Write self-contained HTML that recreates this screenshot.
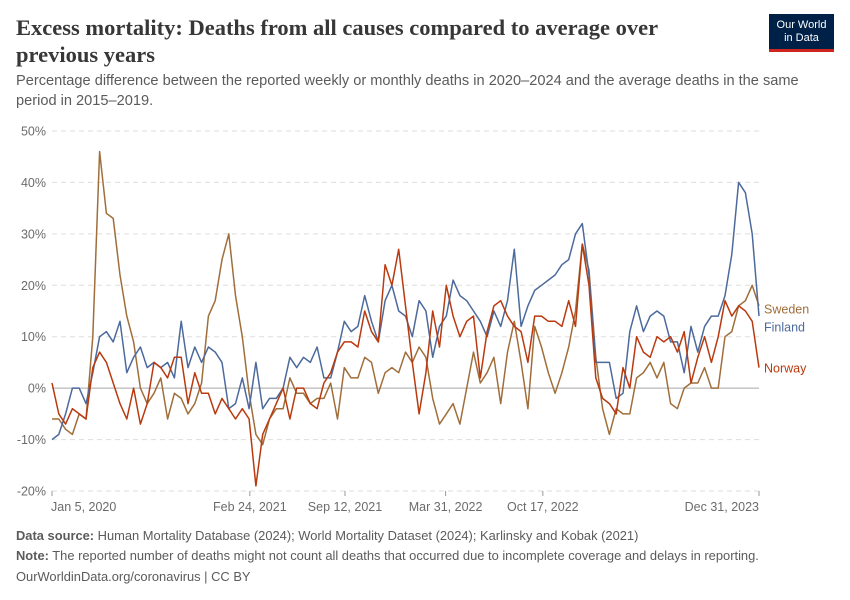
<!DOCTYPE html>
<html><head><meta charset="utf-8"><style>
body{margin:0;background:#fff;font-family:"Liberation Sans",sans-serif}
#wrap{position:relative;width:850px;height:600px;overflow:hidden}
.t{position:absolute;margin:0}
</style></head><body>
<div id="wrap">
<h1 class="t" style="left:16px;top:14px;width:700px;font-family:'Liberation Serif',serif;font-size:22.5px;line-height:27px;color:#373737;font-weight:bold">Excess mortality: Deaths from all causes compared to average over previous years</h1>
<p class="t" style="left:16px;top:72px;width:820px;font-size:14.6px;line-height:19.5px;color:#5b5b5b">Percentage difference between the reported weekly or monthly deaths in 2020–2024 and the average deaths in the same period in 2015–2019.</p>
<div class="t" style="left:769px;top:14px;width:65px;height:38px;background:#002147;border-bottom:3px solid #ce261e;box-sizing:border-box;color:#fff;font-size:11px;line-height:13px;text-align:center;padding-top:5px">Our World<br>in Data</div>
<svg id="chart" width="850" height="600" style="position:absolute;left:0;top:0"></svg>
<p class="t" style="left:16px;top:528px;font-size:12.9px;color:#5b5b5b"><b>Data source:</b> Human Mortality Database (2024); World Mortality Dataset (2024); Karlinsky and Kobak (2021)</p>
<p class="t" style="left:16px;top:548px;font-size:12.9px;color:#5b5b5b"><b>Note:</b> The reported number of deaths might not count all deaths that occurred due to incomplete coverage and delays in reporting.</p>
<p class="t" style="left:16px;top:569px;font-size:12.9px;color:#5b5b5b">OurWorldinData.org/coronavirus | CC BY</p>
</div>
<script>
const yTicks=[-20,-10,0,10,20,30,40,50];
const xTickLabels=["Jan 5, 2020","Feb 24, 2021","Sep 12, 2021","Mar 31, 2022","Oct 17, 2022","Dec 31, 2023"];
const xTickIdx=[0,29.1,43.1,57.9,72.2,104];
const sweden=[-6,-6,-8,-9,-5,-6,10,46,34,33,22,14,9,0,-3,-1,2,-6,-1,-2,-5,-3,1,14,17,25,30,18,10,-1,-9,-11,-6,-4,-4,2,-1,-1,-3,-2,-2,1,-6,4,2,2,6,5,-1,3,4,3,7,5,8,6,-2,-7,-5,-3,-7,0,7,1,3,6,-3,7,13,5,-4,12,8,3,-1,3,8,15,28,23,6,-4,-9,-4,-5,-5,2,3,5,2,5,-3,-4,0,1,1,4,0,0,10,11,16,17,20,16];
const finland=[-10,-9,-5,0,0,-3,3,10,11,9,13,3,6,8,4,5,4,5,2,13,4,8,5,8,7,5,-4,-3,2,-4,5,-4,-2,-2,0,6,4,6,5,8,2,2,7,13,11,12,18,13,9,17,20,15,14,10,17,15,6,12,14,21,18,17,15,13,10,15,12,17,27,12,16,19,20,21,22,24,25,30,32,22,5,5,5,-2,-1,11,16,11,14,15,14,9,9,3,12,7,12,14,14,18,26,40,38,30,14];
const norway=[1,-5,-7,-4,-5,-6,4,7,5,1,-3,-6,0,-7,-3,5,4,2,6,6,-3,3,-1,-1,-5,-2,-4,-6,-4,-6,-19,-9,-6,-3,0,-6,0,0,-3,-4,1,3,7,9,9,8,15,11,9,24,20,27,16,5,-5,3,15,8,20,14,10,13,14,2,11,16,17,14,12,11,5,14,14,13,13,12,17,12,28,20,2,-2,-3,-5,4,0,10,7,6,10,9,10,7,11,1,6,10,5,10,17,14,16,15,13,4];
const series=[{n:"Sweden",d:sweden,c:"#a06e3a",ly:309},{n:"Finland",d:finland,c:"#4c6a9c",ly:327},{n:"Norway",d:norway,c:"#b93a0f",ly:368}];
const NS="http://www.w3.org/2000/svg";
const svg=document.getElementById('chart');
const X0=52,X1=759,Y0=491,Y1=131;
const xs=i=>X0+(X1-X0)*i/(sweden.length-1);
const ys=v=>Y0-(v+20)/70*(Y0-Y1);
function mk(t,a){const e=document.createElementNS(NS,t);for(const k in a)e.setAttribute(k,a[k]);svg.appendChild(e);return e;}
yTicks.forEach(v=>{
  const l=mk('line',{x1:X0,x2:X1,y1:ys(v),y2:ys(v),stroke:v===0?'#a6a6a6':'#dddddd','stroke-dasharray':v===0?'':'5,4','stroke-width':1});
  
  
  const t=mk('text',{x:46,y:ys(v)+4.5,'text-anchor':'end','font-size':12.5,fill:'#6b6b6b','font-family':'Liberation Sans, sans-serif'});
  t.textContent=v+'%';
  
  
});
xTickLabels.forEach((s,k)=>{
  const x=xs(xTickIdx[k]);
  const tk=mk('line',{x1:x,x2:x,y1:491,y2:496,stroke:'#999'});
  
  
  const anchor=k===0?'start':(k===xTickLabels.length-1?'end':'middle');
  const t=mk('text',{x:k===0?x-1:x,y:511,'text-anchor':anchor,'font-size':12.5,fill:'#6b6b6b','font-family':'Liberation Sans, sans-serif'});
  t.textContent=s;
  
  
});
series.forEach(s=>{
  const p=mk('path',{d:s.d.map((v,i)=>(i?'L':'M')+xs(i).toFixed(1)+','+ys(v).toFixed(1)).join(''),fill:'none',stroke:s.c,'stroke-width':1.5,'stroke-linejoin':'round'});
  
  
  const t=mk('text',{x:764,y:s.ly+4.5,'font-size':12.5,fill:s.c,'font-family':'Liberation Sans, sans-serif'});
  t.textContent=s.n;
  
  
});
</script>
</body></html>
